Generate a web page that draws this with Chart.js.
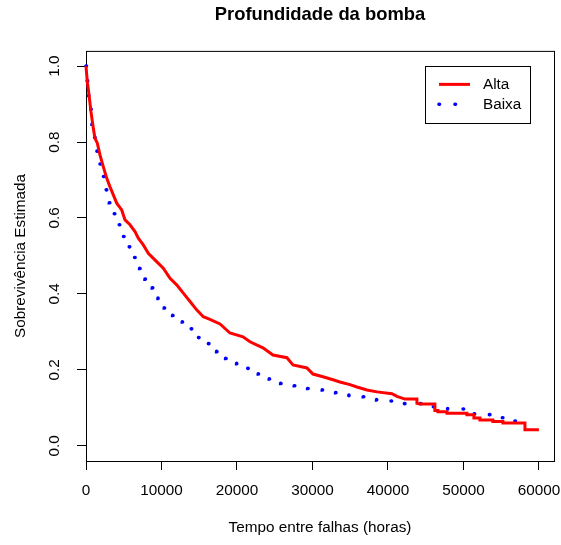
<!DOCTYPE html>
<html lang="pt">
<head>
<meta charset="utf-8">
<title>Profundidade da bomba</title>
<script src="https://cdn.jsdelivr.net/npm/chart.js@4/dist/chart.umd.min.js"></script>
<style>
  html, body { margin: 0; padding: 0; background: #fff; }
  #grafico { display: block; }
</style>
</head>
<body>
<canvas id="grafico" width="561" height="545"></canvas>
<script>
// Curvas de sobrevivência de Kaplan-Meier (tempo em horas, sobrevivência estimada).
// Grupo "Alta": traçado contínuo; na cauda os degraus aparecem como pares de pontos.
const altaTempo = [0, 170, 400, 660, 970, 1190, 1500, 1850, 2290, 2740, 3180, 3620, 4070, 4730, 5170,
  5830, 6490, 6930, 7590, 8250, 9360, 10240, 11130, 12010, 12890, 13780, 14660, 15540, 16420, 17750,
  19070, 20800, 21720, 23440, 24770, 26620, 27420, 29270, 30070, 31390, 32720, 33640, 34970, 35890,
  37220, 38540, 40530, 41190, 42250, 43840, 43840, 44240, 46220, 46220, 46620, 46620, 47820, 47820,
  50460, 50460, 51390, 51390, 52190, 52190, 53900, 53900, 55230, 55230, 58150, 58150, 60000];
const altaSobrev = [1.000, 0.959, 0.924, 0.880, 0.836, 0.810, 0.797, 0.766, 0.735, 0.705, 0.682, 0.661,
  0.639, 0.621, 0.595, 0.582, 0.564, 0.547, 0.529, 0.507, 0.485, 0.468, 0.441, 0.424, 0.402, 0.380,
  0.358, 0.340, 0.333, 0.321, 0.297, 0.287, 0.274, 0.258, 0.239, 0.232, 0.213, 0.205, 0.189, 0.182,
  0.174, 0.168, 0.161, 0.155, 0.147, 0.142, 0.137, 0.130, 0.123, 0.123, 0.112, 0.110, 0.110, 0.093,
  0.093, 0.090, 0.090, 0.086, 0.086, 0.082, 0.082, 0.073, 0.073, 0.068, 0.068, 0.064, 0.064, 0.060,
  0.060, 0.042, 0.042];

// Grupo "Baixa": pontos de queda da função em escada
const baixaTempo = [0, 90, 300, 530, 800, 1100, 1420, 1820, 2250, 2650, 3090, 3710, 4370, 4940, 5700,
  6360, 7110, 7820, 8780, 9540, 10370, 11480, 12760, 13910, 14870, 16200, 17310, 18500, 19960, 21420,
  22820, 24280, 25790, 27590, 29360, 31300, 33070, 34830, 36730, 38500, 40400, 42160, 46000, 47910,
  51430, 53380, 55140, 56820, 58280];
const baixaSobrev = [1.000, 0.961, 0.922, 0.886, 0.847, 0.812, 0.776, 0.742, 0.709, 0.674, 0.640, 0.611,
  0.582, 0.551, 0.524, 0.496, 0.467, 0.439, 0.416, 0.388, 0.363, 0.343, 0.326, 0.308, 0.285, 0.269,
  0.248, 0.230, 0.216, 0.204, 0.189, 0.176, 0.164, 0.158, 0.151, 0.147, 0.140, 0.132, 0.129, 0.121,
  0.118, 0.111, 0.103, 0.097, 0.084, 0.082, 0.074, 0.065, 0.053];

// Marcas e rótulos dos eixos
const xTicks = [0, 10000, 20000, 30000, 40000, 50000, 60000];
const xTickLabels = ['0', '10000', '20000', '30000', '40000', '50000', '60000'];
const yTicks = [0, 0.2, 0.4, 0.6, 0.8, 1.0];
const yTickLabels = ['0.0', '0.2', '0.4', '0.6', '0.8', '1.0'];

const grupos = ['Alta', 'Baixa'];

const pontos = (ts, ss) => ts.map((t, i) => ({ x: t, y: ss[i] }));

const FONTE = "'Liberation Sans', Arial, Helvetica, sans-serif";
Chart.defaults.font.family = FONTE;
Chart.defaults.color = '#000';

// Moldura em volta da área do gráfico
const moldura = {
  id: 'moldura',
  beforeDatasetsDraw(chart) {
    const { ctx, chartArea: a } = chart;
    ctx.save();
    ctx.strokeStyle = '#000';
    ctx.lineWidth = 1;
    ctx.strokeRect(a.left + 0.5, a.top + 0.5, a.right - a.left, a.bottom - a.top);
    ctx.restore();
  }
};

// Legenda em caixa, no canto superior direito
const caixaLegenda = {
  id: 'caixaLegenda',
  afterDatasetsDraw(chart, args, o) {
    const { ctx, chartArea: a } = chart;
    const right = a.right - o.insetRight;
    const top = a.top + o.insetTop;
    const left = right - o.width;
    ctx.save();
    ctx.strokeStyle = '#000';
    ctx.lineWidth = 1;
    ctx.setLineDash([]);
    ctx.strokeRect(Math.round(left) + 0.5, Math.round(top) + 0.5, o.width, o.height);
    chart.data.datasets.forEach((ds, i) => {
      const y = top + o.firstRow + i * o.rowGap;
      ctx.beginPath();
      ctx.strokeStyle = ds.borderColor;
      ctx.lineWidth = ds.borderWidth;
      ctx.lineCap = ds.borderCapStyle || 'butt';
      ctx.setLineDash(ds.borderDash || []);
      ctx.moveTo(left + o.sampleStart, y);
      ctx.lineTo(left + o.sampleEnd, y);
      ctx.stroke();
      ctx.setLineDash([]);
      ctx.fillStyle = '#000';
      ctx.font = o.fontSize + 'px ' + FONTE;
      ctx.textAlign = 'left';
      ctx.textBaseline = 'middle';
      ctx.fillText(ds.label, left + o.textX, y + 0.8);
    });
    ctx.restore();
  }
};

new Chart(document.getElementById('grafico'), {
  type: 'scatter',
  data: {
    datasets: [
      {
        label: grupos[0],
        data: pontos(altaTempo, altaSobrev),
        showLine: true,
        borderColor: '#ff0000',
        backgroundColor: '#ff0000',
        borderWidth: 3,
        borderJoinStyle: 'miter',
        pointRadius: 0,
        fill: false,
        clip: 4
      },
      {
        label: grupos[1],
        data: pontos(baixaTempo, baixaSobrev),
        showLine: true,
        stepped: 'before',
        borderColor: '#0000ff',
        backgroundColor: '#0000ff',
        borderWidth: 3.6,
        borderDash: [0.5, 15.5],
        borderCapStyle: 'round',
        pointRadius: 0,
        fill: false,
        clip: 4
      }
    ]
  },
  options: {
    responsive: false,
    animation: false,
    devicePixelRatio: 1,
    layout: { padding: { left: 0, right: 7, top: 0, bottom: 0 } },
    plugins: {
      legend: { display: false },
      tooltip: { enabled: false },
      title: {
        display: true,
        text: 'Profundidade da bomba',
        fullSize: false,
        color: '#000',
        font: { size: 18.4, weight: 'bold', family: FONTE },
        padding: { top: 4, bottom: 24.8 }
      },
      caixaLegenda: {
        insetRight: 24, insetTop: 15, width: 105, height: 57,
        firstRow: 18.5, rowGap: 19.8,
        sampleStart: 14, sampleEnd: 45, textX: 58, fontSize: 15.3
      }
    },
    scales: {
      x: {
        type: 'linear',
        min: 0,
        max: 62000,
        afterBuildTicks: (s) => { s.ticks = xTicks.map(v => ({ value: v })); },
        afterFit: (s) => { s.height = 84; s.paddingLeft = 0; s.paddingRight = 0; },
        ticks: {
          autoSkip: false,
          maxRotation: 0,
          minRotation: 0,
          padding: 11.3,
          font: { size: 15.3 },
          color: '#000',
          callback: (v, i) => xTickLabels[i]
        },
        grid: { drawOnChartArea: false, drawTicks: true, tickLength: 9, color: '#000', lineWidth: 1 },
        border: { display: false },
        title: {
          display: true,
          text: 'Tempo entre falhas (horas)',
          font: { size: 15.3 },
          color: '#000',
          padding: { top: 0, bottom: 8.1 }
        }
      },
      y: {
        type: 'linear',
        min: -0.04,
        max: 1.04,
        afterBuildTicks: (s) => { s.ticks = yTicks.map(v => ({ value: v })); },
        afterFit: (s) => { s.width = 86; s.paddingTop = 0; s.paddingBottom = 0; },
        ticks: {
          autoSkip: false,
          minRotation: 90,
          maxRotation: 90,
          crossAlign: 'center',
          padding: 11.7,
          font: { size: 15.3 },
          color: '#000',
          callback: (v, i) => yTickLabels[i]
        },
        grid: { drawOnChartArea: false, drawTicks: true, tickLength: 9, color: '#000', lineWidth: 1 },
        border: { display: false },
        title: {
          display: true,
          text: 'Sobrevivência Estimada',
          font: { size: 15.3 },
          color: '#000',
          padding: { top: 11.5, bottom: 0 }
        }
      }
    }
  },
  plugins: [moldura, caixaLegenda]
});
</script>
</body>
</html>
